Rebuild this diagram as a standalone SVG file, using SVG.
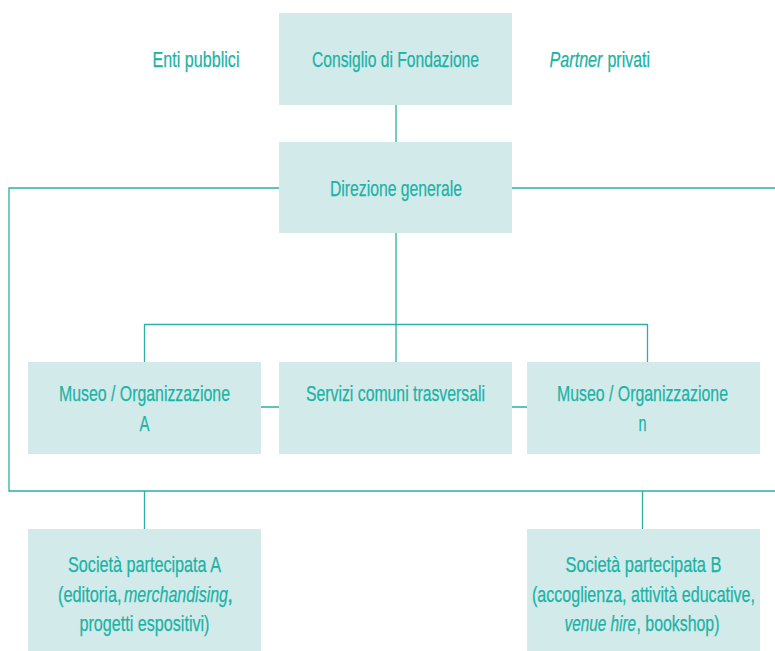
<svg xmlns="http://www.w3.org/2000/svg" width="775" height="651" viewBox="0 0 775 651">
<style>
.box{fill:#d3eaea;}
.t{font-family:"Liberation Sans",Arial,sans-serif;font-size:22px;fill:#1ab3a6;stroke:#1ab3a6;stroke-width:0.25;text-anchor:middle;}
.s{text-anchor:start;}
.i{font-style:italic;}
.c{fill:none;stroke:#2ab0a5;stroke-width:1.3;}
</style>
<rect width="775" height="651" fill="#ffffff"/>
<g id="connectors">
<path class="c" d="M396 105V142"/>
<path class="c" d="M396 233V362"/>
<path class="c" d="M144.5 362V324.5H647.5V362"/>
<path class="c" d="M279 188H9V491H775"/>
<path class="c" d="M512 188H775"/>
<path class="c" d="M261 407H279M512 407H527"/>
<path class="c" d="M144.5 491V529M642.5 491V529"/>
</g>
<g id="enti"><text class="t" x="196" y="67" textLength="87" lengthAdjust="spacingAndGlyphs">Enti pubblici</text></g>
<g id="partner"><text class="t s i" x="549.5" y="67" textLength="53" lengthAdjust="spacingAndGlyphs">Partner</text><text class="t s" x="607.5" y="67" textLength="42.5" lengthAdjust="spacingAndGlyphs">privati</text></g>
<g id="consiglio"><rect class="box" x="279" y="13" width="233" height="92"/><text class="t" x="395.5" y="67" textLength="167" lengthAdjust="spacingAndGlyphs">Consiglio di Fondazione</text></g>
<g id="direzione"><rect class="box" x="279" y="142" width="233" height="91"/><text class="t" x="396" y="195.5" textLength="132" lengthAdjust="spacingAndGlyphs">Direzione generale</text></g>
<g id="museoA"><rect class="box" x="28" y="362" width="233" height="92"/><text class="t" x="144.5" y="400.5" textLength="171" lengthAdjust="spacingAndGlyphs">Museo / Organizzazione</text><text class="t" x="144.5" y="430.5" textLength="10" lengthAdjust="spacingAndGlyphs">A</text></g>
<g id="servizi"><rect class="box" x="279" y="362" width="233" height="92"/><text class="t" x="395.5" y="400.5" textLength="179" lengthAdjust="spacingAndGlyphs">Servizi comuni trasversali</text></g>
<g id="museoN"><rect class="box" x="527" y="362" width="233" height="92"/><text class="t" x="642.5" y="400.5" textLength="171" lengthAdjust="spacingAndGlyphs">Museo / Organizzazione</text><text class="t" x="642.5" y="430.5" textLength="8" lengthAdjust="spacingAndGlyphs">n</text></g>
<g id="socA"><rect class="box" x="28" y="529" width="233" height="122"/><text class="t" x="144.5" y="572" textLength="153" lengthAdjust="spacingAndGlyphs">Società partecipata A</text><text class="t s" x="58" y="601.5" textLength="63.5" lengthAdjust="spacingAndGlyphs">(editoria,</text><text class="t s i" x="124" y="601.5" textLength="104" lengthAdjust="spacingAndGlyphs">merchandising</text><text class="t s" x="227" y="601.5">,</text><text class="t" x="144.5" y="631" textLength="130" lengthAdjust="spacingAndGlyphs">progetti espositivi)</text></g>
<g id="socB"><rect class="box" x="527" y="529" width="233" height="122"/><text class="t" x="643.5" y="572" textLength="156" lengthAdjust="spacingAndGlyphs">Società partecipata B</text><text class="t" x="643.5" y="601.5" textLength="223" lengthAdjust="spacingAndGlyphs">(accoglienza, attività educative,</text><text class="t s i" x="564.5" y="631" textLength="71.5" lengthAdjust="spacingAndGlyphs">venue hire</text><text class="t s" x="636.5" y="631" textLength="83" lengthAdjust="spacingAndGlyphs">, bookshop)</text></g>
</svg>
